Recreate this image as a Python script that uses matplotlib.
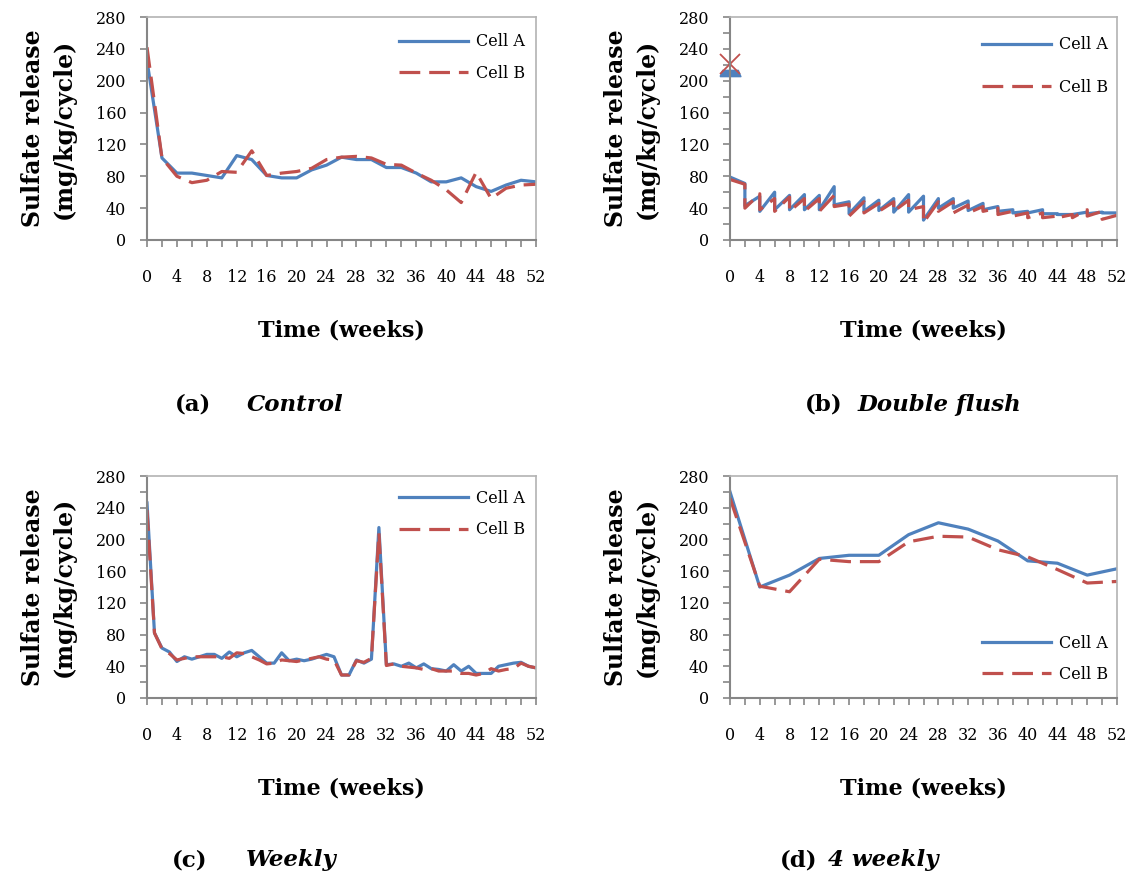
"""
Sulfate release from four cells, Cell A vs Cell B, under four flushing regimes.
"""

import matplotlib
matplotlib.use('Agg')
import matplotlib.pyplot as plt
import numpy as np

plt.rcParams['font.family'] = ['DejaVu Serif']
plt.rcParams['font.size'] = 11

BLUE = '#4F81BD'
RED = '#C0504D'

# ===== DATA =====
# (a) Control - every 2 weeks
weeks_a = list(range(0, 53, 2))
control_a = [225, 103, 84, 84, 81, 78, 106, 101, 81, 78, 78, 88, 94, 104,
             101, 101, 91, 91, 84, 73, 73, 78, 67, 61, 69, 75, 73]
control_b = [242, 103, 80, 72, 75, 86, 85, 112, 81, 84, 86, 90, 101, 104,
             105, 103, 95, 94, 84, 75, 63, 47, 85, 52, 65, 69, 70]

# (b) Double flush - two values at each flush week (before / after drop)
flush_weeks = list(range(2, 53, 2))
double_a_high = [71, 55, 60, 56, 57, 56, 67, 48, 53, 50, 52, 57, 55,
                 52, 52, 49, 46, 42, 38, 36, 38, 33, 32, 35, 35, 34]
double_a_low = [43, 36, 38, 38, 38, 38, 44, 33, 36, 37, 35, 35, 25,
                40, 40, 37, 38, 36, 34, 34, 33, 32, 32, 33, 34, 33]
double_b_high = [70, 58, 52, 54, 52, 52, 56, 45, 48, 46, 48, 50, 42,
                 48, 48, 44, 42, 40, 36, 34, 34, 30, 32, 38, 36, 31]
double_b_low = [40, 38, 36, 36, 36, 36, 42, 30, 34, 36, 36, 38, 22,
                36, 34, 34, 36, 32, 30, 28, 28, 28, 28, 30, 26, 25]
double_start_a = 79
double_start_b = 76
double_marker_a = 210
double_marker_b = 221

# (c) Weekly
weeks_c = list(range(0, 53))
weekly_a = [246, 82, 63, 58, 46, 52, 49, 52, 55, 55, 50, 58, 52, 57, 60, 52,
            44, 44, 57, 47, 49, 47, 49, 52, 55, 52, 29, 29, 48, 44, 49, 215,
            42, 43, 40, 44, 38, 43, 37, 36, 34, 42, 34, 40, 31, 31, 31, 40,
            42, 44, 45, 40, 38]
weekly_b = [237, 82, 62, 56, 48, 50, 52, 52, 52, 52, 52, 50, 57, 56, 52, 48,
            43, 44, 48, 47, 46, 48, 50, 52, 49, 48, 29, 29, 47, 45, 50, 208,
            41, 43, 40, 39, 38, 36, 37, 34, 34, 34, 31, 31, 29, 31, 37, 34,
            36, 37, 44, 40, 38]

# (d) 4 weekly
weeks_d = list(range(0, 53, 4))
four_a = [260, 140, 155, 176, 180, 180, 206, 221, 213, 198, 173, 170, 155, 163]
four_b = [252, 141, 134, 175, 172, 172, 197, 204, 203, 187, 178, 162, 145, 147]

captions = [('(a)', 'Control'), ('(b)', 'Double flush'),
            ('(c)', 'Weekly'), ('(d)', '4 weekly')]


def sawtooth(start, highs, lows):
    xs, ys = [0], [start]
    for w, h, l in zip(flush_weeks, highs, lows):
        xs += [w, w]
        ys += [h, l]
    return xs[:-1], ys[:-1]


# ===== FIGURE =====
fig = plt.figure(figsize=(11.41, 8.81), dpi=100)
W, H = 1141, 881
boxes = [(147, 17, 536, 240), (730, 17, 1117, 240),
         (147, 476, 536, 698), (730, 476, 1117, 698)]
axes = []
for (x0, y0, x1, y1) in boxes:
    axes.append(fig.add_axes([x0 / W, 1 - y1 / H, (x1 - x0) / W, (y1 - y0) / H]))

dash = (0, (6.5, 2.8))
lw = 2.3

ax = axes[0]
ax.plot(weeks_a, control_a, color=BLUE, lw=lw, label='Cell A')
ax.plot(weeks_a, control_b, color=RED, lw=lw, ls=dash, label='Cell B')

ax = axes[1]
xa, ya = sawtooth(double_start_a, double_a_high, double_a_low)
xb, yb = sawtooth(double_start_b, double_b_high, double_b_low)
ax.plot(xa, ya, color=BLUE, lw=lw, label='Cell A')
ax.plot(xb, yb, color=RED, lw=lw, label='Cell B', ls=dash)
trap = [(-1, -0.3), (1, -0.3), (0.75, 0.3), (-0.75, 0.3), (-1, -0.3)]
ax.plot([0], [double_marker_a], marker=trap, color=BLUE, ms=15, ls='none',
        clip_on=False)
ax.plot([0], [double_marker_b], marker='x', color=RED, ms=15, mew=1.3,
        ls='none', clip_on=False)

ax = axes[2]
ax.plot(weeks_c, weekly_a, color=BLUE, lw=lw, label='Cell A')
ax.plot(weeks_c, weekly_b, color=RED, lw=lw, ls=dash, label='Cell B')

ax = axes[3]
ax.plot(weeks_d, four_a, color=BLUE, lw=lw, label='Cell A')
ax.plot(weeks_d, four_b, color=RED, lw=lw, ls=dash, label='Cell B')

legend_opts = [dict(loc='upper right', labelspacing=0.9, bbox_to_anchor=(0.988, 0.955)),
               dict(loc='upper right', labelspacing=1.6, bbox_to_anchor=(0.993, 0.943)),
               dict(loc='upper right', labelspacing=0.9, bbox_to_anchor=(0.988, 0.966)),
               dict(loc='lower right', labelspacing=0.9, bbox_to_anchor=(0.993, 0.039))]

for i, ax in enumerate(axes):
    ax.set_xlim(0, 52)
    ax.set_ylim(0, 280)
    ax.set_xticks(range(0, 53, 4))
    ax.set_xticks(range(0, 53, 2), minor=True)
    ax.set_yticks(range(0, 281, 40))
    if i > 0:
        ax.set_yticks(range(0, 281, 20), minor=True)
    ax.tick_params(axis='both', which='both', direction='out', length=5,
                   width=1.2, color='#868686')
    ax.tick_params(axis='x', pad=16, labelsize=11.5)
    ax.tick_params(axis='y', pad=10, labelsize=11.5)
    for side in ['left', 'bottom']:
        ax.spines[side].set_color('#868686')
        ax.spines[side].set_linewidth(1.5)
    for side in ['top', 'right']:
        ax.spines[side].set_color('#b3b3b3')
        ax.spines[side].set_linewidth(1.2)
    ax.set_xlabel('Time (weeks)', fontweight='bold', fontsize=16, labelpad=24)
    ax.set_ylabel('Sulfate release\n(mg/kg/cycle)', fontweight='bold',
                  fontsize=17, labelpad=14, linespacing=1.35)
    ax.legend(frameon=False, handlelength=4.3, fontsize=11.5,
              handletextpad=0.5, borderaxespad=0, **legend_opts[i])

# Sub-captions
cap_pos = [(175, 247, 405), (805, 858, 405), (172, 246, 860), (780, 828, 860)]
for (tag, name), (xt, xn, yc) in zip(captions, cap_pos):
    fig.text(xt / W, 1 - yc / H, tag, fontweight='bold', fontsize=16.5,
             va='center', ha='left')
    fig.text(xn / W, 1 - yc / H, name, fontweight='bold', fontstyle='italic',
             fontsize=16.5, va='center', ha='left')

plt.savefig('out.png', dpi=100)
plt.close()
